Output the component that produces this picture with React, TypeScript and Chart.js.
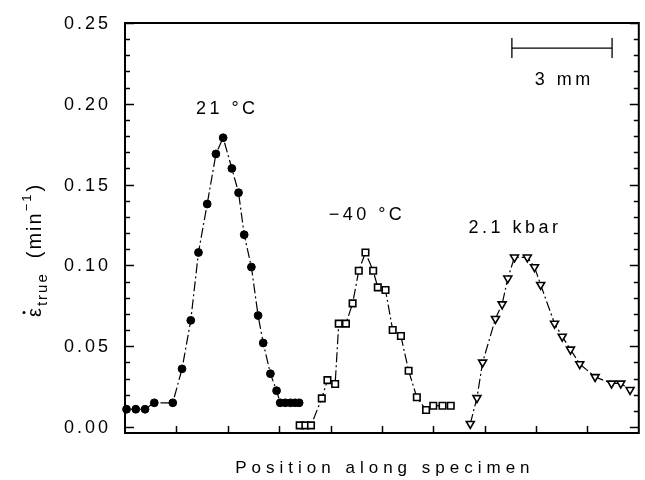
import React, { useEffect, useRef } from 'react';
import { Chart, registerables } from 'chart.js';

Chart.register(...registerables);

// 21 °C (filled circles)
const circleX = [0.03, 0.21, 0.39, 0.57, 0.93, 1.11, 1.28, 1.43, 1.6, 1.77, 1.91, 2.08, 2.21, 2.32, 2.46, 2.59, 2.69, 2.83, 2.95, 3.02, 3.12, 3.22, 3.31, 3.39];
const circleY = [0.011, 0.011, 0.011, 0.015, 0.015, 0.036, 0.066, 0.108, 0.138, 0.169, 0.179, 0.16, 0.145, 0.119, 0.099, 0.069, 0.052, 0.033, 0.0225, 0.015, 0.015, 0.015, 0.015, 0.015];

// −40 °C (open squares)
const squareX = [3.4, 3.51, 3.62, 3.83, 3.94, 4.09, 4.16, 4.3, 4.43, 4.55, 4.68, 4.83, 4.92, 5.07, 5.21, 5.37, 5.52, 5.68, 5.86, 6.0, 6.18, 6.34];
const squareY = [0.001, 0.001, 0.001, 0.0177, 0.029, 0.0266, 0.064, 0.064, 0.0765, 0.0967, 0.108, 0.0967, 0.0864, 0.0848, 0.06, 0.0563, 0.0348, 0.0184, 0.0105, 0.0132, 0.0132, 0.0132];

// 2.1 kbar (open down triangles)
const triX = [6.72, 6.85, 6.96, 7.21, 7.34, 7.45, 7.58, 7.83, 7.97, 8.09, 8.36, 8.51, 8.67, 8.85, 9.15, 9.47, 9.65, 9.83];
const triY = [0.002, 0.018, 0.04, 0.067, 0.076, 0.092, 0.105, 0.105, 0.099, 0.088, 0.064, 0.056, 0.048, 0.039, 0.031, 0.027, 0.027, 0.023];

const yTickValues = [0, 0.05, 0.1, 0.15, 0.2, 0.25];
const yTickLabels = ['0.00', '0.05', '0.10', '0.15', '0.20', '0.25'];
const xTickValues = [1, 2, 3, 4, 5, 6, 7, 8, 9];

const annotationTexts = ['21 °C', '−40 °C', '2.1 kbar', '3 mm'];
const annotationX = [1.99, 4.71, 7.59, 8.55];
const annotationY = [0.197, 0.131, 0.123, 0.2147];

const scaleBarX = [7.53, 9.48];
const scaleBarY = 0.2345;

const xTitle = 'Position along specimen';

const FONT = '"Liberation Sans", Arial, sans-serif';

const toPts = (xs: number[], ys: number[]) => xs.map((x, i) => ({ x, y: ys[i] }));

export default function App() {
  const ref = useRef<HTMLCanvasElement>(null);

  useEffect(() => {
    document.body.style.margin = '0';
    const canvas = ref.current;
    if (!canvas) return;

    const decor = {
      id: 'decor',
      afterDraw(chart: any) {
        const ctx: CanvasRenderingContext2D = chart.ctx;
        const xs = chart.scales.x;
        const ys = chart.scales.y;
        const { left, right, top, bottom } = chart.chartArea;
        const line = (x1: number, y1: number, x2: number, y2: number) => {
          ctx.beginPath();
          ctx.moveTo(x1, y1);
          ctx.lineTo(x2, y2);
          ctx.stroke();
        };
        ctx.save();
        ctx.strokeStyle = '#000';
        ctx.fillStyle = '#000';
        ctx.lineWidth = 2;
        ctx.strokeRect(left, top, right - left, bottom - top);

        // y ticks (inward) both sides
        ctx.lineWidth = 1.5;
        for (let i = 0; i <= 25; i++) {
          const py = Math.round(ys.getPixelForValue(i * 0.01)) + 0.5;
          const len = i % 5 === 0 ? 9 : 5;
          line(left, py, left + len, py);
          line(right, py, right - len, py);
        }
        // x ticks (inward)
        xTickValues.forEach((v) => {
          const px = Math.round(xs.getPixelForValue(v)) + 0.5;
          line(px, bottom, px, bottom - 7);
        });

        // y tick labels
        (ctx as any).letterSpacing = '3px';
        ctx.font = `18px ${FONT}`;
        ctx.textAlign = 'right';
        ctx.textBaseline = 'middle';
        yTickValues.forEach((v, i) => {
          ctx.fillText(yTickLabels[i], left - 14, ys.getPixelForValue(v) + 1);
        });

        // annotations
        ctx.font = `18px ${FONT}`;
        (ctx as any).letterSpacing = '3.5px';
        ctx.textAlign = 'center';
        annotationTexts.forEach((t, i) => {
          ctx.fillText(t, xs.getPixelForValue(annotationX[i]), ys.getPixelForValue(annotationY[i]));
        });

        // scale bar
        ctx.lineWidth = 1.3;
        const bx1 = xs.getPixelForValue(scaleBarX[0]);
        const bx2 = xs.getPixelForValue(scaleBarX[1]);
        const by = ys.getPixelForValue(scaleBarY);
        line(bx1, by, bx2, by);
        line(bx1, by - 10, bx1, by + 10);
        line(bx2, by - 10, bx2, by + 10);

        // x title
        ctx.font = `17px ${FONT}`;
        (ctx as any).letterSpacing = '5px';
        ctx.textAlign = 'center';
        ctx.fillText(xTitle, (left + right) / 2 + 3, 468);

        // y title (rotated)
        ctx.save();
        ctx.translate(41, 317);
        ctx.rotate(-Math.PI / 2);
        ctx.textAlign = 'left';
        ctx.textBaseline = 'alphabetic';
        (ctx as any).letterSpacing = '2px';
        let cx = 0;
        ctx.font = `20px ${FONT}`;
        ctx.fillText('ε', cx, 0);
        const ew = ctx.measureText('ε').width;
        ctx.beginPath();
        ctx.arc(cx + ew / 2 - 1, -17, 1.5, 0, Math.PI * 2);
        ctx.fill();
        cx += ew;
        ctx.font = `15px ${FONT}`;
        ctx.fillText('true', cx, 6);
        cx += ctx.measureText('true').width + 14;
        ctx.font = `20px ${FONT}`;
        ctx.fillText('(min', cx, 0);
        cx += ctx.measureText('(min').width;
        ctx.font = `13px ${FONT}`;
        ctx.fillText('−1', cx, -10);
        cx += ctx.measureText('−1').width + 1;
        ctx.font = `20px ${FONT}`;
        ctx.fillText(')', cx, 0);
        ctx.restore();

        ctx.restore();
      },
    };

    const dash = [10, 3, 2, 3];
    const chart = new Chart(canvas, {
      type: 'scatter',
      data: {
        datasets: [
          {
            label: '21 °C',
            data: toPts(circleX, circleY),
            showLine: true,
            borderColor: '#000',
            borderWidth: 1.2,
            borderDash: dash,
            pointStyle: 'circle',
            pointRadius: 3.9,
            pointBackgroundColor: '#000',
            pointBorderColor: '#000',
            pointBorderWidth: 1,
            clip: false as any,
          },
          {
            label: '−40 °C',
            data: toPts(squareX, squareY),
            showLine: true,
            borderColor: '#000',
            borderWidth: 1.2,
            borderDash: dash,
            pointStyle: 'rect',
            pointRadius: 4.6,
            pointBackgroundColor: '#fff',
            pointBorderColor: '#000',
            pointBorderWidth: 1.6,
            clip: false as any,
          },
          {
            label: '2.1 kbar',
            data: toPts(triX, triY),
            showLine: true,
            borderColor: '#000',
            borderWidth: 1.2,
            borderDash: dash,
            pointStyle: 'triangle',
            pointRotation: 180,
            pointRadius: 4.6,
            pointBackgroundColor: '#fff',
            pointBorderColor: '#000',
            pointBorderWidth: 1.6,
            clip: false as any,
          },
        ],
      },
      options: {
        animation: false,
        responsive: true,
        maintainAspectRatio: false,
        layout: { padding: { top: 23, right: 2, left: 0, bottom: 0 } },
        plugins: { legend: { display: false }, tooltip: { enabled: false } },
        scales: {
          x: {
            type: 'linear',
            min: 0,
            max: 10,
            grid: { display: false },
            border: { display: false },
            ticks: { display: false },
            afterFit: (s: any) => {
              s.height = 47;
            },
          },
          y: {
            type: 'linear',
            min: -0.0037,
            max: 0.25,
            grid: { display: false },
            border: { display: false },
            ticks: { display: false },
            afterFit: (s: any) => {
              s.width = 125;
            },
          },
        },
      },
      plugins: [decor],
    });
    return () => chart.destroy();
  }, []);

  return (
    <div style={{ position: 'absolute', left: 0, top: 0, width: 645, height: 480 }}>
      <canvas ref={ref} />
    </div>
  );
}
